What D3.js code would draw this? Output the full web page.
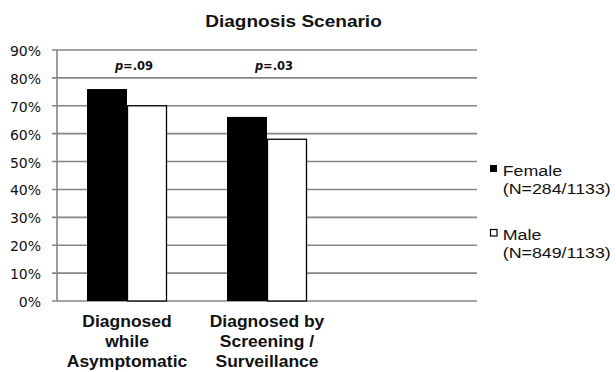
<!DOCTYPE html>
<html>
<head>
<meta charset="utf-8">
<script src="https://cdn.jsdelivr.net/npm/d3@7"></script>
<style>
  html, body { margin: 0; padding: 0; background: #fff; }
  svg { display: block; }
</style>
</head>
<body>
<script>
// Share of patients (%) per diagnosis scenario, by sex
const categories = ["Diagnosed\nwhile\nAsymptomatic", "Diagnosed by\nScreening /\nSurveillance", ""];
const female = [76, 66, null];
const male = [70, 58, null];
const pLabels = ["=.09", "=.03", null];
const yTicks = [0, 10, 20, 30, 40, 50, 60, 70, 80, 90];
const seriesNames = ["Female", "Male"];
const seriesNotes = ["(N=284/1133)", "(N=849/1133)"];

const W = 616, H = 372;
const svg = d3.select("body").append("svg").attr("width", W).attr("height", H);

const plot = { left: 57, right: 477, top: 50, bottom: 301 };

const x = d3.scaleBand().domain(d3.range(categories.length))
  .range([plot.left, plot.right]).paddingInner(0).paddingOuter(0);
const y = d3.scaleLinear().domain([0, 90]).range([plot.bottom, plot.top]);

const barW = 40;
const gridColor = "#868686";

// Horizontal gridlines (extend left to form tick marks)
svg.append("g").selectAll("line").data(yTicks).join("line")
  .attr("x1", plot.left - 5).attr("x2", plot.right)
  .attr("y1", d => y(d)).attr("y2", d => y(d))
  .attr("stroke", gridColor).attr("stroke-width", 1.6);

// Vertical axis line
svg.append("line")
  .attr("x1", plot.left).attr("x2", plot.left)
  .attr("y1", y(90)).attr("y2", y(0))
  .attr("stroke", gridColor).attr("stroke-width", 1.6);

// Y tick labels
svg.append("g").selectAll("text").data(yTicks).join("text")
  .attr("x", 41).attr("y", d => y(d) + 6)
  .attr("text-anchor", "end")
  .attr("font-family", "DejaVu Sans, Verdana, sans-serif")
  .attr("font-size", 14).attr("fill", "#111")
  .text(d => d + "%");

// Bars
const groups = svg.append("g").selectAll("g")
  .data(d3.range(categories.length).filter(i => female[i] != null))
  .join("g");

groups.append("rect")
  .attr("x", i => x(i) + x.bandwidth() / 2 - barW)
  .attr("width", barW)
  .attr("y", i => y(female[i]))
  .attr("height", i => y(0) - y(female[i]))
  .attr("fill", "#000");

groups.append("rect")
  .attr("x", i => x(i) + x.bandwidth() / 2 + 0.5)
  .attr("width", barW - 1)
  .attr("y", i => y(male[i]))
  .attr("height", i => y(0) - y(male[i]))
  .attr("fill", "#fff").attr("stroke", "#000").attr("stroke-width", 1.3);

// p-value annotations
const pText = svg.append("g").selectAll("text")
  .data(d3.range(categories.length).filter(i => pLabels[i] != null))
  .join("text")
  .attr("x", i => x(i) + x.bandwidth() / 2 + 7)
  .attr("y", 70)
  .attr("text-anchor", "middle")
  .attr("font-family", "DejaVu Sans, Verdana, sans-serif")
  .attr("font-size", 11.5).attr("font-weight", "bold").attr("fill", "#111");
pText.append("tspan").attr("font-style", "italic").text("p");
pText.append("tspan").text(i => pLabels[i]);

// Helper for horizontally widened Arial-style text
function wideText(parent, tx, ty, sx, anchor, size, weight, str) {
  return parent.append("text")
    .attr("transform", `translate(${tx},${ty}) scale(${sx},1)`)
    .attr("text-anchor", anchor)
    .attr("font-family", "Liberation Sans, Arial, sans-serif")
    .attr("font-size", size).attr("font-weight", weight).attr("fill", "#111")
    .text(str);
}

// Category labels
const lineGap = 20.3;
categories.forEach((c, i) => {
  if (!c) return;
  c.split("\n").forEach((line, k) => {
    wideText(svg, x(i) + x.bandwidth() / 2, 326.7 + k * lineGap, 1.06, "middle", 16.5, "bold", line);
  });
});

// Title
wideText(svg, 293.5, 27.3, 1.12, "middle", 17, "bold", "Diagnosis Scenario");

// Legend
const legendRows = [165, 229];
seriesNames.forEach((name, i) => {
  const top = legendRows[i];
  svg.append("rect")
    .attr("x", i === 0 ? 490 : 490.5).attr("y", i === 0 ? top : top + 0.5)
    .attr("width", i === 0 ? 7 : 6.5).attr("height", i === 0 ? 7 : 6.5)
    .attr("fill", i === 0 ? "#000" : "#fff")
    .attr("stroke", "#000").attr("stroke-width", i === 0 ? 0 : 1.2);
  wideText(svg, 502.7, top + 10.5, 1.15, "start", 15.5, "normal", name);
  wideText(svg, 502.7, top + 28.5, 1.15, "start", 15.5, "normal", seriesNotes[i]);
});
</script>
</body>
</html>
